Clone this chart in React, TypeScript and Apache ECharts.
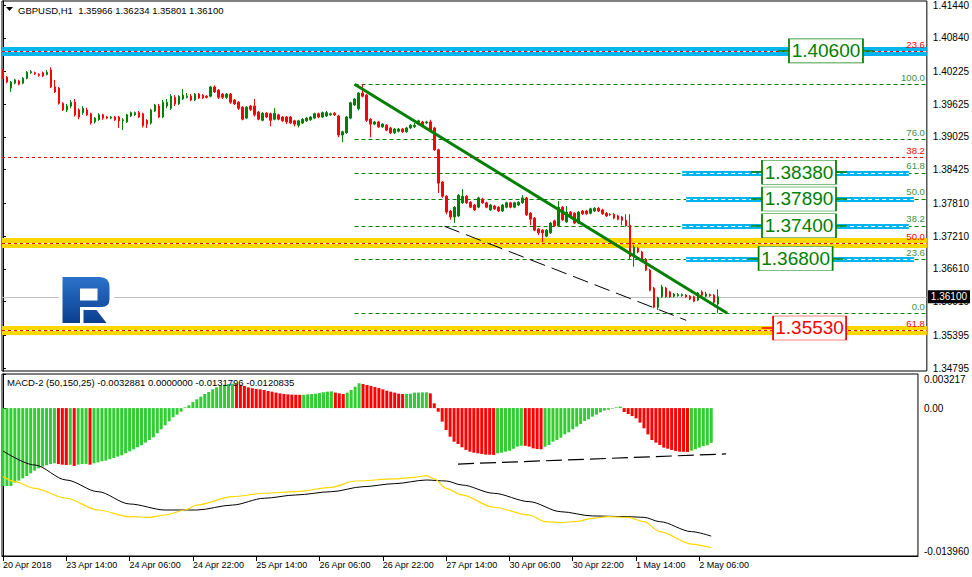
import React, { useEffect, useRef } from "react";
import * as echarts from "echarts";

// ---------------- data ----------------
const TITLE_SYMBOL = "GBPUSD,H1";
const TITLE_OHLC = ["1.35966", "1.36234", "1.35801", "1.36100"];
const MACD_TITLE = "MACD-2 (50,150,25) -0.0032881 0.0000000 -0.0131796 -0.0120835";

const TIME_LABELS = [
  "20 Apr 2018", "23 Apr 14:00", "24 Apr 06:00", "24 Apr 22:00", "25 Apr 14:00", "26 Apr 06:00",
  "26 Apr 22:00", "27 Apr 14:00", "30 Apr 06:00", "30 Apr 22:00", "1 May 14:00", "2 May 06:00",
];
const TIME_LABEL_BARS = [0, 16, 32, 48, 64, 80, 96, 112, 128, 144, 160, 176];

const PRICE_TICKS = [1.4144, 1.4084, 1.40225, 1.39625, 1.39025, 1.38425, 1.3781, 1.3721, 1.3661, 1.3601, 1.35395, 1.34795];
const MACD_TICKS = [0.003217, 0, -0.01396];
const MACD_TICK_TEXT = ["0.003217", "0.00", "-0.013960"];

// H1 bars: [open, close, low, high]
const CANDLES: number[][] = [
  [1.4025, 1.401, 1.4009, 1.4027], [1.4012, 1.4003, 1.4001, 1.4014], [1.3992, 1.4003, 1.3985, 1.4005], [1.4001, 1.4007, 1.3999, 1.4009], [1.4005, 1.3999, 1.3997, 1.4007],
  [1.4001, 1.401, 1.3999, 1.4012], [1.401, 1.4021, 1.4008, 1.4023], [1.402, 1.4022, 1.4018, 1.4025], [1.402, 1.4018, 1.4016, 1.4022], [1.4017, 1.4015, 1.4013, 1.4019],
  [1.402, 1.4014, 1.4012, 1.4022], [1.4017, 1.4021, 1.4015, 1.4025], [1.4025, 1.3994, 1.3992, 1.403], [1.3994, 1.3985, 1.3983, 1.4007], [1.3992, 1.3964, 1.3962, 1.3994],
  [1.3964, 1.3952, 1.395, 1.3966], [1.3952, 1.3959, 1.3948, 1.3963], [1.3959, 1.3966, 1.3955, 1.397], [1.3966, 1.3943, 1.394, 1.3972], [1.3952, 1.3939, 1.3935, 1.3955],
  [1.3947, 1.3955, 1.3943, 1.3959], [1.3952, 1.3943, 1.3941, 1.3956], [1.3945, 1.3928, 1.3925, 1.3947], [1.393, 1.3937, 1.3927, 1.3939], [1.3934, 1.3943, 1.3932, 1.3946],
  [1.3943, 1.3937, 1.3934, 1.3945], [1.3939, 1.3937, 1.3935, 1.3941], [1.3937, 1.3939, 1.3935, 1.3941], [1.3939, 1.3934, 1.3932, 1.3941], [1.3939, 1.3932, 1.3919, 1.3941],
  [1.3932, 1.3934, 1.3915, 1.3937], [1.393, 1.3943, 1.3928, 1.3945], [1.3941, 1.3947, 1.3939, 1.3949], [1.3943, 1.3947, 1.3941, 1.3949], [1.3947, 1.3939, 1.3937, 1.395],
  [1.3945, 1.3923, 1.392, 1.3947], [1.3933, 1.3926, 1.3919, 1.3935], [1.3928, 1.3952, 1.3925, 1.3954], [1.395, 1.3961, 1.3948, 1.3963], [1.3959, 1.3939, 1.3937, 1.3963],
  [1.3939, 1.3966, 1.3937, 1.397], [1.3959, 1.3966, 1.3955, 1.3972], [1.3955, 1.3977, 1.3952, 1.3981], [1.3975, 1.3963, 1.3959, 1.3979], [1.3963, 1.3977, 1.3961, 1.3979],
  [1.3972, 1.3979, 1.397, 1.399], [1.3975, 1.3977, 1.3973, 1.3983], [1.3977, 1.397, 1.3968, 1.3981], [1.397, 1.3981, 1.3968, 1.3983], [1.3981, 1.3974, 1.3972, 1.3983],
  [1.3979, 1.3974, 1.3972, 1.3981], [1.3977, 1.3975, 1.3973, 1.3979], [1.3977, 1.3994, 1.3975, 1.3996], [1.3994, 1.3985, 1.3983, 1.3997], [1.3988, 1.3975, 1.3972, 1.399],
  [1.3981, 1.3975, 1.3972, 1.3983], [1.3975, 1.3981, 1.3972, 1.3983], [1.3981, 1.3966, 1.3963, 1.3983], [1.397, 1.3963, 1.3961, 1.3972], [1.3966, 1.3955, 1.3952, 1.3968],
  [1.3957, 1.3935, 1.3933, 1.3959], [1.3937, 1.3957, 1.3935, 1.3959], [1.3959, 1.3953, 1.395, 1.3961], [1.3959, 1.3943, 1.394, 1.3972], [1.3948, 1.3935, 1.3933, 1.395],
  [1.3933, 1.3946, 1.3931, 1.3948], [1.3946, 1.3939, 1.3937, 1.3948], [1.3945, 1.3933, 1.3922, 1.3947], [1.3935, 1.3946, 1.3933, 1.3955], [1.3943, 1.3935, 1.3933, 1.3945],
  [1.3939, 1.3932, 1.393, 1.3941], [1.3939, 1.393, 1.3926, 1.3941], [1.3939, 1.3928, 1.3926, 1.3941], [1.3932, 1.3926, 1.3922, 1.3934], [1.3924, 1.3932, 1.392, 1.3934],
  [1.3928, 1.3935, 1.3926, 1.3937], [1.3932, 1.3937, 1.393, 1.3939], [1.3934, 1.3939, 1.3932, 1.3941], [1.3937, 1.3945, 1.3935, 1.3947], [1.3945, 1.3939, 1.3937, 1.3947],
  [1.3939, 1.3947, 1.3937, 1.3949], [1.3941, 1.3947, 1.3939, 1.395], [1.3943, 1.3945, 1.3941, 1.3947], [1.3946, 1.3943, 1.3941, 1.3948], [1.3941, 1.3906, 1.3902, 1.3943],
  [1.3906, 1.3912, 1.3893, 1.3914], [1.391, 1.3939, 1.3908, 1.3941], [1.3937, 1.3965, 1.3935, 1.3967], [1.3961, 1.3972, 1.3959, 1.3974], [1.3954, 1.3983, 1.3951, 1.3985],
  [1.3983, 1.3977, 1.3975, 1.3999], [1.3979, 1.3933, 1.393, 1.3981], [1.3935, 1.3926, 1.3902, 1.3937], [1.3926, 1.393, 1.3924, 1.3932], [1.393, 1.3921, 1.3919, 1.3932],
  [1.3921, 1.3926, 1.3919, 1.3928], [1.3924, 1.3915, 1.3913, 1.3926], [1.3919, 1.391, 1.3908, 1.3921], [1.391, 1.3917, 1.3908, 1.3919], [1.3913, 1.3917, 1.3911, 1.3919],
  [1.3917, 1.3912, 1.391, 1.3919], [1.3912, 1.3919, 1.391, 1.3921], [1.3919, 1.3924, 1.3917, 1.3926], [1.3921, 1.3924, 1.3919, 1.3928], [1.3926, 1.3932, 1.3924, 1.3934],
  [1.393, 1.3924, 1.3922, 1.3932], [1.3928, 1.393, 1.3926, 1.3932], [1.393, 1.3915, 1.3913, 1.3934], [1.3919, 1.3879, 1.3877, 1.3921], [1.3879, 1.3818, 1.38, 1.3881],
  [1.382, 1.3794, 1.3791, 1.3822], [1.3794, 1.3765, 1.3761, 1.3796], [1.3767, 1.3756, 1.3751, 1.3769], [1.3756, 1.3774, 1.3745, 1.3776], [1.3758, 1.3796, 1.3756, 1.3798],
  [1.3782, 1.3794, 1.378, 1.3807], [1.3794, 1.3782, 1.378, 1.3796], [1.3783, 1.3774, 1.3772, 1.3785], [1.3778, 1.3769, 1.3767, 1.378], [1.3774, 1.3791, 1.3772, 1.3793],
  [1.3789, 1.3782, 1.378, 1.3791], [1.3782, 1.3774, 1.3772, 1.3784], [1.3769, 1.3778, 1.3767, 1.378], [1.3776, 1.3771, 1.3769, 1.3778], [1.3774, 1.3767, 1.3765, 1.3776],
  [1.3767, 1.3778, 1.3765, 1.378], [1.3774, 1.3782, 1.3772, 1.3784], [1.3782, 1.3774, 1.3772, 1.3784], [1.3774, 1.3782, 1.3772, 1.3784], [1.3778, 1.3783, 1.3776, 1.3785],
  [1.3782, 1.3791, 1.378, 1.3796], [1.3791, 1.376, 1.3758, 1.3793], [1.3763, 1.3752, 1.3741, 1.3765], [1.3754, 1.3732, 1.373, 1.3756], [1.3734, 1.3727, 1.3723, 1.3736],
  [1.3732, 1.3727, 1.371, 1.3734], [1.3721, 1.3732, 1.3719, 1.3734], [1.3727, 1.3745, 1.3725, 1.3747], [1.3749, 1.374, 1.3738, 1.3751], [1.374, 1.3774, 1.3738, 1.3785],
  [1.3774, 1.3751, 1.3749, 1.3776], [1.3747, 1.3765, 1.3745, 1.3776], [1.3765, 1.3756, 1.3754, 1.3767], [1.3763, 1.3745, 1.3743, 1.3765], [1.3745, 1.3765, 1.3743, 1.3767],
  [1.3767, 1.3762, 1.376, 1.3769], [1.3767, 1.3762, 1.376, 1.3769], [1.3763, 1.3771, 1.3761, 1.3773], [1.3767, 1.3772, 1.3765, 1.3774], [1.3772, 1.3767, 1.3765, 1.3774],
  [1.3769, 1.3762, 1.376, 1.3771], [1.3763, 1.3758, 1.3756, 1.3765], [1.3761, 1.376, 1.3758, 1.3763], [1.3761, 1.3754, 1.3752, 1.3763], [1.3758, 1.3752, 1.375, 1.376],
  [1.3756, 1.375, 1.3741, 1.3758], [1.375, 1.374, 1.3738, 1.3761], [1.3741, 1.3683, 1.3679, 1.3761], [1.3683, 1.3701, 1.3665, 1.3705], [1.3699, 1.3692, 1.369, 1.3701],
  [1.3692, 1.3679, 1.3677, 1.3694], [1.3679, 1.3659, 1.3657, 1.3681], [1.3659, 1.3622, 1.362, 1.3661], [1.3626, 1.3591, 1.3589, 1.3628], [1.3591, 1.3608, 1.3586, 1.361],
  [1.361, 1.3628, 1.3608, 1.3632], [1.3626, 1.361, 1.3608, 1.3628], [1.3619, 1.361, 1.3608, 1.3621], [1.3611, 1.3615, 1.3609, 1.3617], [1.3612, 1.3614, 1.361, 1.3617],
  [1.3612, 1.3614, 1.361, 1.3616], [1.3613, 1.361, 1.3608, 1.3615], [1.3611, 1.3606, 1.3604, 1.3613], [1.361, 1.3602, 1.36, 1.3612], [1.3604, 1.3617, 1.3602, 1.3619],
  [1.3619, 1.3613, 1.3611, 1.3622], [1.3611, 1.3615, 1.3609, 1.3619], [1.3614, 1.3612, 1.361, 1.3616], [1.3613, 1.36, 1.3593, 1.3615], [1.35966, 1.361, 1.35801, 1.36234],
];

const CURRENT_PRICE = 1.361;
const CURRENT_PRICE_TEXT = "1.36100";

const FIB_GREEN = [
  { level: "100.0", price: 1.3999 }, { level: "76.0", price: 1.3898 }, { level: "61.8", price: 1.3837 },
  { level: "50.0", price: 1.3789 }, { level: "38.2", price: 1.374 }, { level: "23.6", price: 1.3679 }, { level: "0.0", price: 1.358 },
];
const FIB_RED = [
  { level: "23.6", price: 1.4059 }, { level: "38.2", price: 1.3865 }, { level: "50.0", price: 1.3708 }, { level: "61.8", price: 1.3549 },
];
const TARGETS = [
  { text: "1.40600", price: 1.406 }, { text: "1.38380", price: 1.3838 }, { text: "1.37890", price: 1.3789 },
  { text: "1.37400", price: 1.374 }, { text: "1.36800", price: 1.368 },
];
const STOP = { text: "1.35530", price: 1.3553 };

const TREND_LINE = [[88, 1.3999], [181.3, 1.358]];
const CHANNEL_LINE = [[110.5, 1.3739], [171, 1.3567]];

const MACD_HIST = [
  -0.00735, -0.00735, -0.00735, -0.00703, -0.00684, -0.00663, -0.00641, -0.00616, -0.0059, -0.00568,
  -0.00553, -0.0054, -0.00528, -0.00521, -0.00528, -0.00534, -0.00537, -0.00534, -0.00546, -0.00534,
  -0.00528, -0.00527, -0.00534, -0.00521, -0.00512, -0.00502, -0.00496, -0.00483, -0.00471, -0.00458,
  -0.00446, -0.00427, -0.00408, -0.00389, -0.0037, -0.00351, -0.00326, -0.00301, -0.00276, -0.00238,
  -0.002, -0.00163, -0.00125, -0.00087, -0.00062, -0.00034, 0.00007, 0.00026, 0.00058, 0.00083,
  0.00108, 0.00133, 0.00152, 0.00177, 0.00196, 0.00212, 0.00221, 0.00227, 0.00231, 0.00227,
  0.00221, 0.00209, 0.00196, 0.00187, 0.0018, 0.00177, 0.00171, 0.00161, 0.00155, 0.00146,
  0.00139, 0.00133, 0.0013, 0.00127, 0.00126, 0.00125, 0.00126, 0.0013, 0.00133, 0.00136,
  0.00142, 0.00149, 0.00155, 0.00158, 0.00146, 0.00139, 0.00133, 0.00146, 0.00171, 0.00202,
  0.00234, 0.00227, 0.00218, 0.00209, 0.00199, 0.0019, 0.00177, 0.00164, 0.00155, 0.00146,
  0.00136, 0.00133, 0.00134, 0.00136, 0.00146, 0.00147, 0.00148, 0.00149, 0.00139, 0.00045,
  -0.00034, -0.00128, -0.00207, -0.0027, -0.00317, -0.00339, -0.0037, -0.00395, -0.00411, -0.00421,
  -0.00427, -0.00433, -0.00439, -0.0044, -0.00442, -0.00427, -0.00421, -0.00411, -0.00402, -0.00383,
  -0.00364, -0.00355, -0.00356, -0.00364, -0.0038, -0.00386, -0.00389, -0.00364, -0.00348, -0.00317,
  -0.00301, -0.00279, -0.00248, -0.00229, -0.002, -0.00175, -0.0015, -0.00122, -0.00106, -0.00081,
  -0.00062, -0.0004, -0.00024, -0.00015, -0.00005, 0.00007, 0.00014, -0.00037, -0.00056, -0.00075,
  -0.00097, -0.00137, -0.00191, -0.00248, -0.00301, -0.00326, -0.00348, -0.00373, -0.00383, -0.00395,
  -0.00405, -0.00411, -0.00412, -0.00414, -0.00402, -0.00389, -0.00373, -0.00358, -0.00351, -0.0032881,
];
// colour of each histogram bar, as runs: G = rising (green), R = falling (red)
const MACD_COLOR_RUNS: [string, number][] = [
  ["G", 14], ["R", 3], ["G", 1], ["R", 1], ["G", 3], ["R", 1], ["G", 36], ["R", 17], ["G", 8], ["R", 3],
  ["G", 4], ["R", 11], ["G", 6], ["R", 17], ["G", 7], ["R", 5], ["G", 20], ["R", 17], ["G", 6],
];
const MACD_MAIN = [
  [0, -0.00405], [8, -0.00537], [16, -0.00679], [24, -0.00789], [32, -0.00905], [41, -0.00962], [49, -0.00962],
  [58, -0.00915], [66, -0.00851], [74, -0.0082], [83, -0.00789], [91, -0.00742], [99, -0.00713], [107, -0.00679],
  [112, -0.00688], [116, -0.00726], [124, -0.00804], [133, -0.00883], [141, -0.00978], [149, -0.01018],
  [158, -0.01025], [162, -0.01031], [166, -0.01072], [174, -0.01166], [179, -0.0120835],
];
const MACD_SIGNAL = [
  [0, -0.00647], [3, -0.00694], [8, -0.00757], [16, -0.00851], [24, -0.00962], [32, -0.01025], [37, -0.01031],
  [41, -0.01009], [46, -0.00962], [49, -0.00915], [58, -0.00836], [66, -0.00804], [74, -0.00789], [83, -0.00748],
  [89, -0.00688], [99, -0.00669], [104, -0.00653], [107, -0.00638], [109, -0.00669], [112, -0.00757], [116, -0.0082],
  [124, -0.00936], [133, -0.01009], [137, -0.01072], [141, -0.01081], [145, -0.01069], [149, -0.0104], [153, -0.01025],
  [158, -0.01031], [162, -0.01072], [166, -0.01166], [174, -0.01283], [179, -0.0131796],
];
const MACD_SUPPORT = [[115, -0.00528], [182.75, -0.00433]];

// ---------------- layout & style ----------------
const FONT = "'Liberation Sans', Arial, sans-serif";
const GREEN = "#008000";
const RED = "#ff0000";
const BLUE = "#00b4f0";
const YELLOW = "#ffd700";
const FIB_TEXT_GREEN = "#3d9140";
const X_MIN = -0.25;
const X_MAX = 231.25;
const PRICE_MIN = 1.34742;
const PRICE_MAX = 1.41513;
const MACD_MIN = -0.01396;
const MACD_MAX = 0.003217;
const FIB_GREEN_START = 88;
const RED_BANDS = [
  { level: "23.6", color: BLUE, width: 9 },
  { level: "50.0", color: YELLOW, width: 10 },
  { level: "61.8", color: YELLOW, width: 9 },
];
const GREEN_BANDS = [
  { level: "61.8", from: 170, to: 226.75 },
  { level: "50.0", from: 171, to: 228 },
  { level: "38.2", from: 170, to: 226.75 },
  { level: "23.6", from: 171, to: 228 },
];
const TARGET_BOX_X = [206, 199.25, 199.25, 199.25, 198.4];
const STOP_BOX_X = 201.9;

const LOGO_PATH =
  "M0 0H37Q47 0 47 10V22Q47 30 39 30H17.5V46H0Z M17.5 11.5V23.5H35V11.5Z M21 33H34L44 46H21Z";
let logoRegistered = false;
function ensureLogo() {
  if (logoRegistered) return;
  echarts.graphic.registerShape("rfLogo", (echarts.graphic as any).extendPath(LOGO_PATH, {}));
  logoRegistered = true;
}

function fibLabel(text: string, color: string) {
  return { show: true, position: "insideEndTop", formatter: text, color, fontSize: 9.5, fontFamily: FONT, distance: 2 };
}

function buildOption(): any {
  const greenPrice = (lvl: string) => FIB_GREEN.find((f) => f.level === lvl)!.price;
  const redPrice = (lvl: string) => FIB_RED.find((f) => f.level === lvl)!.price;
  const off = { show: false };

  const bandLines: any[] = [];
  RED_BANDS.forEach((b) =>
    bandLines.push({ yAxis: redPrice(b.level), lineStyle: { color: b.color, width: b.width, type: "solid" }, label: off })
  );
  FIB_GREEN.forEach((f) =>
    bandLines.push([
      { coord: [FIB_GREEN_START, f.price], lineStyle: { color: GREEN, width: 1, type: [4, 3] }, label: fibLabel(f.level, FIB_TEXT_GREEN) },
      { coord: [X_MAX, f.price] },
    ])
  );
  GREEN_BANDS.forEach((b) => {
    const p = greenPrice(b.level);
    bandLines.push([{ coord: [b.from, p], lineStyle: { color: BLUE, width: 5, type: "solid" }, label: off }, { coord: [b.to, p] }]);
    bandLines.push([{ coord: [b.from, p], lineStyle: { color: "#ffffff", width: 1, type: [4, 3] }, label: off }, { coord: [b.to, p] }]);
  });
  RED_BANDS.forEach((b) =>
    bandLines.push({ yAxis: redPrice(b.level), lineStyle: { color: "#ffffff", width: 1, type: "solid" }, label: off })
  );
  FIB_RED.forEach((f) =>
    bandLines.push({ yAxis: f.price, lineStyle: { color: RED, width: 1, type: [3, 3] }, label: fibLabel(f.level, RED) })
  );
  bandLines.push({
    yAxis: CURRENT_PRICE,
    lineStyle: { color: "#c0c0c0", width: 1, type: "solid" },
    label: {
      show: true, position: "end", formatter: CURRENT_PRICE_TEXT, color: "#ffffff", backgroundColor: "#000000",
      padding: [2, 3, 1, 3], fontSize: 10, fontFamily: FONT, distance: 1,
    },
  });

  const targetLines: any[] = [];
  const targetPoints: any[] = [];
  TARGETS.forEach((t, i) => {
    const cx = TARGET_BOX_X[i];
    targetLines.push([{ coord: [cx - 12, t.price], lineStyle: { color: GREEN, width: 1.5, type: "solid" }, label: off }, { coord: [cx + 12, t.price] }]);
    targetPoints.push({
      coord: [cx, t.price], symbol: "rect", symbolSize: [74, 24],
      itemStyle: { color: "#ffffff", borderColor: GREEN, borderWidth: 1 },
      label: { show: true, position: "inside", formatter: t.text, color: GREEN, fontSize: 19, fontFamily: FONT },
    });
  });
  targetLines.push([{ coord: [STOP_BOX_X - 12, STOP.price], lineStyle: { color: RED, width: 1.5, type: "solid" }, label: off }, { coord: [STOP_BOX_X, STOP.price] }]);
  targetPoints.push({
    coord: [STOP_BOX_X, STOP.price], symbol: "rect", symbolSize: [73, 24],
    itemStyle: { color: "#ffffff", borderColor: RED, borderWidth: 1 },
    label: { show: true, position: "inside", formatter: STOP.text, color: RED, fontSize: 19, fontFamily: FONT },
  });

  const colors: string[] = [];
  MACD_COLOR_RUNS.forEach(([c, n]) => { for (let k = 0; k < n; k++) colors.push(c); });

  const logoFill = new echarts.graphic.LinearGradient(0, 0, 0, 1, [
    { offset: 0, color: "#2c72cc" },
    { offset: 1, color: "#0b3f8e" },
  ]);

  return {
    animation: false,
    backgroundColor: "#ffffff",
    textStyle: { fontFamily: FONT },
    grid: [
      { left: 2, top: 1, width: 926, height: 370, show: true, borderColor: "#000", borderWidth: 1, backgroundColor: "transparent" },
      { left: 2, top: 374, width: 926, height: 182, show: true, borderColor: "#000", borderWidth: 1, backgroundColor: "transparent" },
    ],
    xAxis: [
      { type: "value", gridIndex: 0, min: X_MIN, max: X_MAX, show: false },
      {
        type: "value", gridIndex: 1, min: X_MIN, max: X_MAX,
        splitLine: { show: false },
        axisLine: { show: true, onZero: false, lineStyle: { color: "#000" } },
        axisTick: { show: true, customValues: TIME_LABEL_BARS, length: 5, lineStyle: { color: "#000" } },
        axisLabel: {
          customValues: TIME_LABEL_BARS, align: "left", margin: 4, color: "#000", fontSize: 9, fontFamily: FONT,
          formatter: (v: number) => {
            const k = TIME_LABEL_BARS.indexOf(Math.round(v));
            return k >= 0 ? TIME_LABELS[k] : "";
          },
        },
      },
    ],
    yAxis: [
      {
        type: "value", gridIndex: 0, position: "right", min: PRICE_MIN, max: PRICE_MAX,
        splitLine: { show: false },
        axisLine: { show: true, lineStyle: { color: "#000" } },
        axisTick: { show: true, customValues: PRICE_TICKS, length: 3, lineStyle: { color: "#000" } },
        axisLabel: {
          customValues: PRICE_TICKS, color: "#000", fontSize: 10, fontFamily: FONT, margin: 6,
          formatter: (v: number) => v.toFixed(5),
        },
      },
      {
        type: "value", gridIndex: 1, position: "right", min: MACD_MIN, max: MACD_MAX,
        splitLine: { show: false },
        axisLine: { show: true, lineStyle: { color: "#000" } },
        axisTick: { show: true, customValues: MACD_TICKS, length: 3, lineStyle: { color: "#000" } },
        axisLabel: {
          customValues: MACD_TICKS, color: "#000", fontSize: 10, fontFamily: FONT, margin: 6,
          verticalAlignMaxLabel: "bottom", verticalAlignMinLabel: "top",
          formatter: (v: number) => {
            const k = MACD_TICKS.findIndex((t) => Math.abs(t - v) < 1e-9);
            return k >= 0 ? MACD_TICK_TEXT[k] : "";
          },
        },
      },
    ],
    series: [
      {
        type: "line", name: "levels", xAxisIndex: 0, yAxisIndex: 0, data: [], silent: true, z: 1,
        markLine: { silent: true, z: 1, precision: 6, symbol: ["none", "none"], animation: false, emphasis: { disabled: true }, data: bandLines },
      },
      {
        type: "candlestick", name: "GBPUSD", xAxisIndex: 0, yAxisIndex: 0, z: 3, silent: true, barWidth: 2,
        data: CANDLES.map((c, i) => [i, c[0], c[1], c[2], c[3]]),
        itemStyle: { color: GREEN, color0: RED, borderColor: GREEN, borderColor0: RED, borderWidth: 1 },
      },
      {
        type: "line", name: "trend", xAxisIndex: 0, yAxisIndex: 0, z: 4, silent: true, symbol: "none",
        data: TREND_LINE, lineStyle: { color: GREEN, width: 3 },
      },
      {
        type: "line", name: "channel", xAxisIndex: 0, yAxisIndex: 0, z: 4, silent: true, symbol: "none",
        data: CHANNEL_LINE, lineStyle: { color: "#000", width: 1, type: [16, 7] },
      },
      {
        type: "line", name: "targets", xAxisIndex: 0, yAxisIndex: 0, data: [], silent: true, z: 6,
        markLine: { silent: true, z: 6, precision: 6, symbol: ["none", "none"], animation: false, emphasis: { disabled: true }, data: targetLines },
        markPoint: { silent: true, z: 7, animation: false, data: targetPoints },
      },
      {
        type: "bar", name: "hist", xAxisIndex: 1, yAxisIndex: 1, barWidth: 3, silent: true, z: 2,
        data: MACD_HIST.map((v, i) => ({ value: [i, v], itemStyle: { color: colors[i] === "G" ? "#32cd32" : "#ff0000" } })),
      },
      {
        type: "line", name: "main", xAxisIndex: 1, yAxisIndex: 1, z: 3, silent: true, symbol: "none",
        smooth: 0.3, smoothMonotone: "x", data: MACD_MAIN, lineStyle: { color: "#000", width: 1 },
      },
      {
        type: "line", name: "signal", xAxisIndex: 1, yAxisIndex: 1, z: 3, silent: true, symbol: "none",
        smooth: 0.3, smoothMonotone: "x", data: MACD_SIGNAL, lineStyle: { color: YELLOW, width: 1.2 },
      },
      {
        type: "line", name: "support", xAxisIndex: 1, yAxisIndex: 1, z: 4, silent: true, symbol: "none",
        data: MACD_SUPPORT, lineStyle: { color: "#000", width: 1.2, type: [16, 6] },
      },
    ],
    graphic: [
      { type: "polygon", z: 100, shape: { points: [[6, 7], [13, 7], [9.5, 11]] }, style: { fill: "#000" } },
      {
        type: "text", z: 100, x: 18, y: 10.5,
        style: { text: `${TITLE_SYMBOL}  ${TITLE_OHLC.join(" ")}`, fill: "#000", fontSize: 9.5, fontFamily: FONT, verticalAlign: "middle" },
      },
      {
        type: "text", z: 100, x: 7, y: 382.5,
        style: { text: MACD_TITLE, fill: "#000", fontSize: 9.5, fontFamily: FONT, verticalAlign: "middle" },
      },
      { type: "rect", z: 100, shape: { x: 59, y: 272, width: 55, height: 54 }, style: { fill: "#ffffff" } },
      { type: "rfLogo", z: 101, x: 62.5, y: 277, style: { fill: logoFill } },
    ],
  };
}

export default function App() {
  const ref = useRef<HTMLDivElement>(null);
  useEffect(() => {
    if (!ref.current) return;
    ensureLogo();
    const chart = echarts.init(ref.current, null, { renderer: "svg" });
    chart.setOption(buildOption());
    return () => chart.dispose();
  }, []);
  return (
    <div
      ref={ref}
      style={{ position: "fixed", left: 0, top: 0, width: 972, height: 577, background: "#ffffff" }}
    />
  );
}
